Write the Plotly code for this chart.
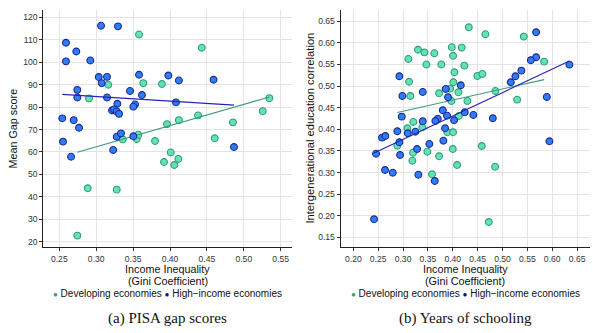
import numpy as np
import plotly.graph_objects as go

# ---------------- Panel (a): PISA gap scores ----------------
a_dev_x = [0.358, 0.443, 0.3164, 0.3638, 0.389, 0.2902, 0.5346, 0.5256, 0.412, 0.438, 0.396, 0.4853,
           0.336, 0.3549, 0.357, 0.3797, 0.4606, 0.401, 0.4113, 0.3919, 0.4058, 0.2885, 0.3278, 0.2744]
a_dev_y = [112.4, 106.5, 90.0, 90.7, 90.3, 83.9, 84.0, 78.2, 74.2, 76.3, 72.4, 73.2,
           65.6, 65.8, 67.7, 64.9, 66.1, 59.8, 56.9, 55.5, 54.2, 43.8, 43.2, 22.7]

a_hi_x = [0.3065, 0.3295, 0.259, 0.273, 0.259, 0.292, 0.3034, 0.3146, 0.3074, 0.358, 0.3977, 0.412,
          0.459, 0.3458, 0.362, 0.2744, 0.2744, 0.3146, 0.3286, 0.408, 0.3526, 0.3503, 0.3214, 0.3241,
          0.3278, 0.3309, 0.254, 0.2695, 0.2767, 0.255, 0.2659, 0.323, 0.3278, 0.3336, 0.3503, 0.4867]
a_hi_y = [116.3, 116.0, 108.7, 104.8, 100.4, 100.8, 93.4, 93.5, 90.7, 94.4, 94.1, 91.9,
          92.2, 87.2, 85.4, 87.7, 84.3, 84.3, 81.5, 82.1, 81.2, 80.2, 78.5, 79.0,
          78.1, 77.0, 75.0, 74.2, 70.8, 64.6, 57.9, 60.9, 66.8, 68.3, 67.0, 62.2]

# ---------------- Panel (b): Years of schooling ----------------
b_dev_x = [0.4322, 0.4656, 0.5428, 0.330, 0.3429, 0.363, 0.398, 0.418, 0.4006, 0.3107, 0.3469, 0.377,
           0.4233, 0.5837, 0.4032, 0.4495, 0.4596, 0.312, 0.4012, 0.3147, 0.3724, 0.3946, 0.4113,
           0.3972, 0.4294, 0.4857, 0.5294, 0.3087, 0.3207, 0.3388, 0.4121, 0.3891, 0.4006, 0.2885,
           0.3201, 0.3187, 0.3489, 0.3724, 0.400, 0.4583, 0.4087, 0.4851, 0.3583, 0.4724]
b_dev_y = [0.636, 0.620, 0.6144, 0.584, 0.578, 0.576, 0.590, 0.589, 0.570, 0.5627, 0.550, 0.550,
           0.5472, 0.5565, 0.532, 0.5234, 0.528, 0.510, 0.5088, 0.477, 0.4833, 0.494, 0.4856,
           0.4655, 0.4655, 0.4887, 0.4685, 0.4023, 0.4169, 0.4046, 0.4308, 0.393, 0.393, 0.362,
           0.3458, 0.3273, 0.3481, 0.3375, 0.3544, 0.3613, 0.3173, 0.3134, 0.2958, 0.1854]

b_hi_x = [0.5676, 0.5676, 0.557, 0.6346, 0.538, 0.526, 0.5167, 0.2926, 0.4161, 0.3859, 0.3396, 0.2986,
          0.3905, 0.5891, 0.2974, 0.3799, 0.3885, 0.3698, 0.365, 0.3396, 0.4241, 0.4414, 0.4805,
          0.4026, 0.3845, 0.2885, 0.3095, 0.3248, 0.2577, 0.2644, 0.2926, 0.2457, 0.3529, 0.3811,
          0.3282, 0.294, 0.2638, 0.2793, 0.3308, 0.3638, 0.2417, 0.5944]
b_hi_y = [0.6245, 0.5667, 0.5597, 0.5495, 0.5357, 0.5227, 0.5088, 0.5227, 0.5019, 0.4933, 0.4864, 0.4771,
          0.4741, 0.4748, 0.4292, 0.444, 0.4315, 0.4245, 0.4192, 0.4185, 0.4393, 0.4331, 0.4255,
          0.4208, 0.4023, 0.3954, 0.3907, 0.3944, 0.3806, 0.3845, 0.370, 0.3435, 0.366, 0.3736,
          0.3544, 0.3405, 0.3058, 0.2995, 0.2949, 0.2803, 0.1917, 0.3722]

a_xticks = [0.25, 0.30, 0.35, 0.40, 0.45, 0.50, 0.55]
a_yticks = [20, 30, 40, 50, 60, 70, 80, 90, 100, 110, 120]
b_xticks = [0.20, 0.25, 0.30, 0.35, 0.40, 0.45, 0.50, 0.55, 0.60, 0.65]
b_yticks = [0.15, 0.20, 0.25, 0.30, 0.35, 0.40, 0.45, 0.50, 0.55, 0.60, 0.65]

DEV_FILL, DEV_EDGE, DEV_LINE = "#62e3b5", "#2f9a76", "#3f9a78"
HI_FILL, HI_EDGE, HI_LINE = "#2f7df6", "#1b2590", "#2424b4"
SANS = "Liberation Sans, Arial, sans-serif"

fig = go.Figure()


def add_panel(xs_dev, ys_dev, xs_hi, ys_hi, xa, ya):
    for xs, ys, fill, edge, lc in [(xs_dev, ys_dev, DEV_FILL, DEV_EDGE, DEV_LINE),
                                   (xs_hi, ys_hi, HI_FILL, HI_EDGE, HI_LINE)]:
        xs_a = np.array(xs)
        ys_a = np.array(ys)
        k, b = np.polyfit(xs_a, ys_a, 1)
        lx = np.array([xs_a.min(), xs_a.max()])
        fig.add_trace(go.Scatter(x=xs, y=ys, mode="markers", xaxis=xa, yaxis=ya, showlegend=False,
                                 marker=dict(size=6.8, color=fill, line=dict(color=edge, width=1.1))))
        fig.add_trace(go.Scatter(x=lx, y=k * lx + b, mode="lines", xaxis=xa, yaxis=ya, showlegend=False,
                                 line=dict(color=lc, width=1.1)))


add_panel(a_dev_x, a_dev_y, a_hi_x, a_hi_y, "x", "y")
add_panel(b_dev_x, b_dev_y, b_hi_x, b_hi_y, "x2", "y2")

axis_common = dict(showline=True, linecolor="#222", linewidth=1.2, ticks="outside", ticklen=3,
                   tickcolor="#333", tickwidth=1, showgrid=True, gridcolor="#e4e4e4", gridwidth=1,
                   zeroline=False, tickfont=dict(family=SANS, size=8.6, color="#333"), mirror=False)

W, H = 593, 333
top = 1 - 10 / H
bot = 1 - 247.3 / H

fig.update_layout(
    width=W, height=H, margin=dict(l=0, r=0, t=0, b=0),
    plot_bgcolor="white", paper_bgcolor="white",
    xaxis=dict(domain=[43.3 / W, 292 / W], range=[0.2283, 0.5653], anchor="y",
               tickvals=a_xticks, ticktext=[f"{v:.2f}" for v in a_xticks], **axis_common),
    yaxis=dict(domain=[bot, top], range=[17.5, 123.3], anchor="x",
               tickvals=a_yticks, ticktext=[str(v) for v in a_yticks], **axis_common),
    xaxis2=dict(domain=[340.7 / W, 590 / W], range=[0.1746, 0.676], anchor="y2",
                tickvals=b_xticks, ticktext=[f"{v:.2f}" for v in b_xticks], **axis_common),
    yaxis2=dict(domain=[bot, top], range=[0.1269, 0.676], anchor="x2",
                tickvals=b_yticks, ticktext=[f"{v:.2f}" for v in b_yticks], **axis_common),
)

ann = []
tf = dict(family=SANS, size=10.8, color="#111")
for cx, cap in [((43.3 + 292) / 2 / W, "(a) PISA gap scores"), ((340.7 + 590) / 2 / W, "(b) Years of schooling")]:
    ann.append(dict(x=cx, y=1 - 269 / H, xref="paper", yref="paper", text="Income Inequality",
                    showarrow=False, font=tf, xanchor="center", yanchor="middle"))
    ann.append(dict(x=cx, y=1 - 281 / H, xref="paper", yref="paper", text="(Gini Coefficient)",
                    showarrow=False, font=tf, xanchor="center", yanchor="middle"))
    ann.append(dict(x=cx, y=1 - 293 / H, xref="paper", yref="paper",
                    text=(f"<span style='color:{DEV_LINE};font-size:8px'>●</span> Developing economies "
                          f"<span style='color:#10108a;font-size:8px'>●</span> High−income economies"),
                    showarrow=False, font=dict(family=SANS, size=10, color="#111"),
                    xanchor="center", yanchor="middle"))
    ann.append(dict(x=cx, y=1 - 318 / H, xref="paper", yref="paper", text=cap,
                    showarrow=False, font=dict(family="Liberation Serif, Times New Roman, serif", size=15,
                                               color="#111"),
                    xanchor="center", yanchor="middle"))

ann.append(dict(x=13 / W, y=1 - 128.6 / H, xref="paper", yref="paper", text="Mean Gap score",
                textangle=-90, showarrow=False, font=tf, xanchor="center", yanchor="middle"))
ann.append(dict(x=310 / W, y=1 - 128.6 / H, xref="paper", yref="paper",
                text="Intergenerational education correlation",
                textangle=-90, showarrow=False, font=dict(family=SANS, size=11.2, color="#111"),
                xanchor="center", yanchor="middle"))

fig.update_layout(annotations=ann)
fig.write_html("out.html")
